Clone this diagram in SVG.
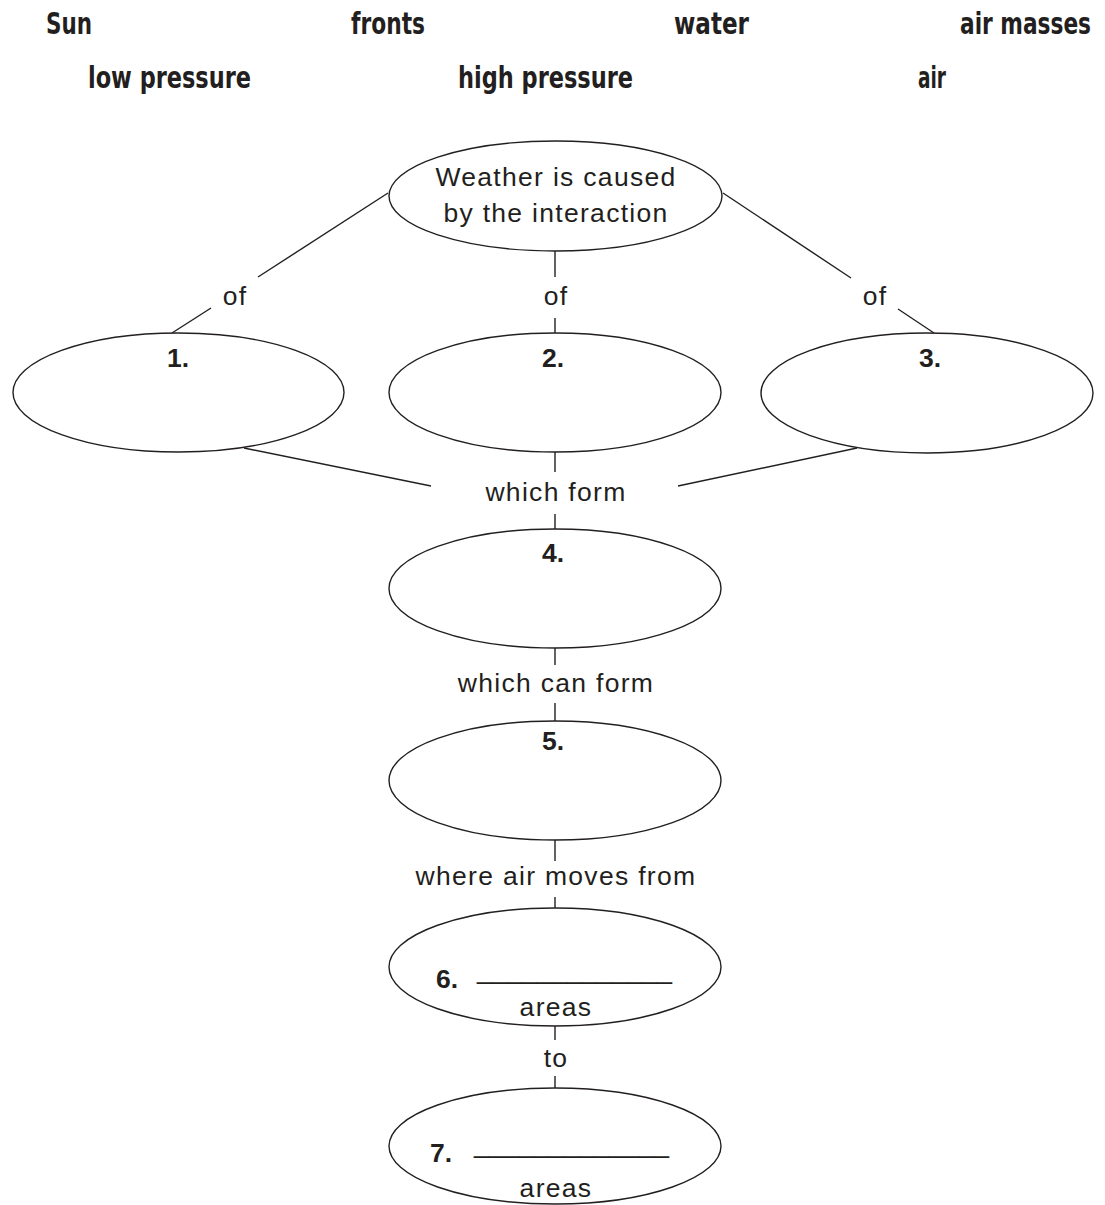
<svg xmlns="http://www.w3.org/2000/svg" width="1105" height="1205" viewBox="0 0 1105 1205">
<style>
.bank{font-family:"DejaVu Sans Condensed","Liberation Sans Narrow","Roboto Condensed","Liberation Sans",sans-serif;font-stretch:condensed;font-weight:bold;font-size:31px;fill:#231f20}
.lbl{font-family:"Liberation Sans",Arial,Helvetica,sans-serif;font-size:26.5px;letter-spacing:1.3px;fill:#231f20;text-anchor:middle}
.num{font-family:"Liberation Sans",Arial,Helvetica,sans-serif;font-size:26.5px;font-weight:bold;fill:#231f20;text-anchor:middle}
.node{fill:#fff;stroke:#231f20;stroke-width:1.4}
.conn line{stroke:#231f20;stroke-width:1.4}
</style>
<rect width="1105" height="1205" fill="#fff"/>
<g id="wordbank">
<text class="bank" x="46" y="34" textLength="46" lengthAdjust="spacingAndGlyphs">Sun</text>
<text class="bank" x="351" y="34" textLength="74" lengthAdjust="spacingAndGlyphs">fronts</text>
<text class="bank" x="674" y="34" textLength="75" lengthAdjust="spacingAndGlyphs">water</text>
<text class="bank" transform="translate(960,34) scale(0.78,1)" x="0" y="0" textLength="168" lengthAdjust="spacingAndGlyphs">air masses</text>
<text class="bank" x="88" y="88" textLength="163" lengthAdjust="spacingAndGlyphs">low pressure</text>
<text class="bank" x="458" y="88" textLength="175" lengthAdjust="spacingAndGlyphs">high pressure</text>
<text class="bank" x="918" y="88" textLength="28" lengthAdjust="spacingAndGlyphs">air</text>
</g>
<g id="connectors" class="conn">
<line x1="388" y1="193" x2="258" y2="277"/>
<line x1="211" y1="308" x2="172" y2="333"/>
<line x1="555" y1="251" x2="555" y2="277"/>
<line x1="555" y1="318" x2="555" y2="334"/>
<line x1="723" y1="193" x2="851" y2="278"/>
<line x1="898" y1="309" x2="934" y2="333"/>
<line x1="244" y1="448" x2="431" y2="486"/>
<line x1="678" y1="486" x2="857" y2="448"/>
<line x1="555" y1="452" x2="555" y2="472"/>
<line x1="555" y1="514" x2="555" y2="529"/>
<line x1="555" y1="648" x2="555" y2="665"/>
<line x1="555" y1="703" x2="555" y2="721"/>
<line x1="555" y1="840" x2="555" y2="861"/>
<line x1="555" y1="897" x2="555" y2="908"/>
<line x1="555" y1="1026" x2="555" y2="1040"/>
<line x1="555" y1="1076" x2="555" y2="1088"/>
<text class="lbl" x="235" y="305">of</text>
<text class="lbl" x="556" y="305">of</text>
<text class="lbl" x="875" y="305">of</text>
<text class="lbl" x="556" y="501">which form</text>
<text class="lbl" x="556" y="692">which can form</text>
<text class="lbl" x="556" y="885">where air moves from</text>
<text class="lbl" x="556" y="1067">to</text>
</g>
<g id="node-weather">
<ellipse class="node" cx="555.5" cy="196" rx="166.5" ry="55"/>
<text class="lbl" x="556" y="186">Weather is caused</text>
<text class="lbl" x="556" y="222">by the interaction</text>
</g>
<g id="node-1">
<ellipse class="node" cx="178.5" cy="392.5" rx="165.5" ry="59.5"/>
<text class="num" x="178" y="367">1.</text>
</g>
<g id="node-2">
<ellipse class="node" cx="555" cy="392.5" rx="166" ry="59.5"/>
<text class="num" x="553" y="367">2.</text>
</g>
<g id="node-3">
<ellipse class="node" cx="927" cy="393" rx="166" ry="60"/>
<text class="num" x="930" y="367">3.</text>
</g>
<g id="node-4">
<ellipse class="node" cx="555" cy="588.5" rx="166" ry="59.5"/>
<text class="num" x="553" y="562">4.</text>
</g>
<g id="node-5">
<ellipse class="node" cx="555" cy="780.5" rx="166" ry="59.5"/>
<text class="num" x="553" y="750">5.</text>
</g>
<g id="node-6">
<ellipse class="node" cx="555" cy="967" rx="166" ry="59"/>
<text x="436" y="988" style="font-family:'Liberation Sans',Arial,sans-serif;font-size:26.5px;fill:#231f20"><tspan font-weight="bold">6.</tspan><tspan x="477" dy="-9" textLength="195" lengthAdjust="spacingAndGlyphs">_____________</tspan></text>
<text class="lbl" x="556" y="1016">areas</text>
</g>
<g id="node-7">
<ellipse class="node" cx="555" cy="1146" rx="166" ry="58"/>
<text x="430" y="1162" style="font-family:'Liberation Sans',Arial,sans-serif;font-size:26.5px;fill:#231f20"><tspan font-weight="bold">7.</tspan><tspan x="474" dy="-9" textLength="195" lengthAdjust="spacingAndGlyphs">_____________</tspan></text>
<text class="lbl" x="556" y="1197">areas</text>
</g>
</svg>
